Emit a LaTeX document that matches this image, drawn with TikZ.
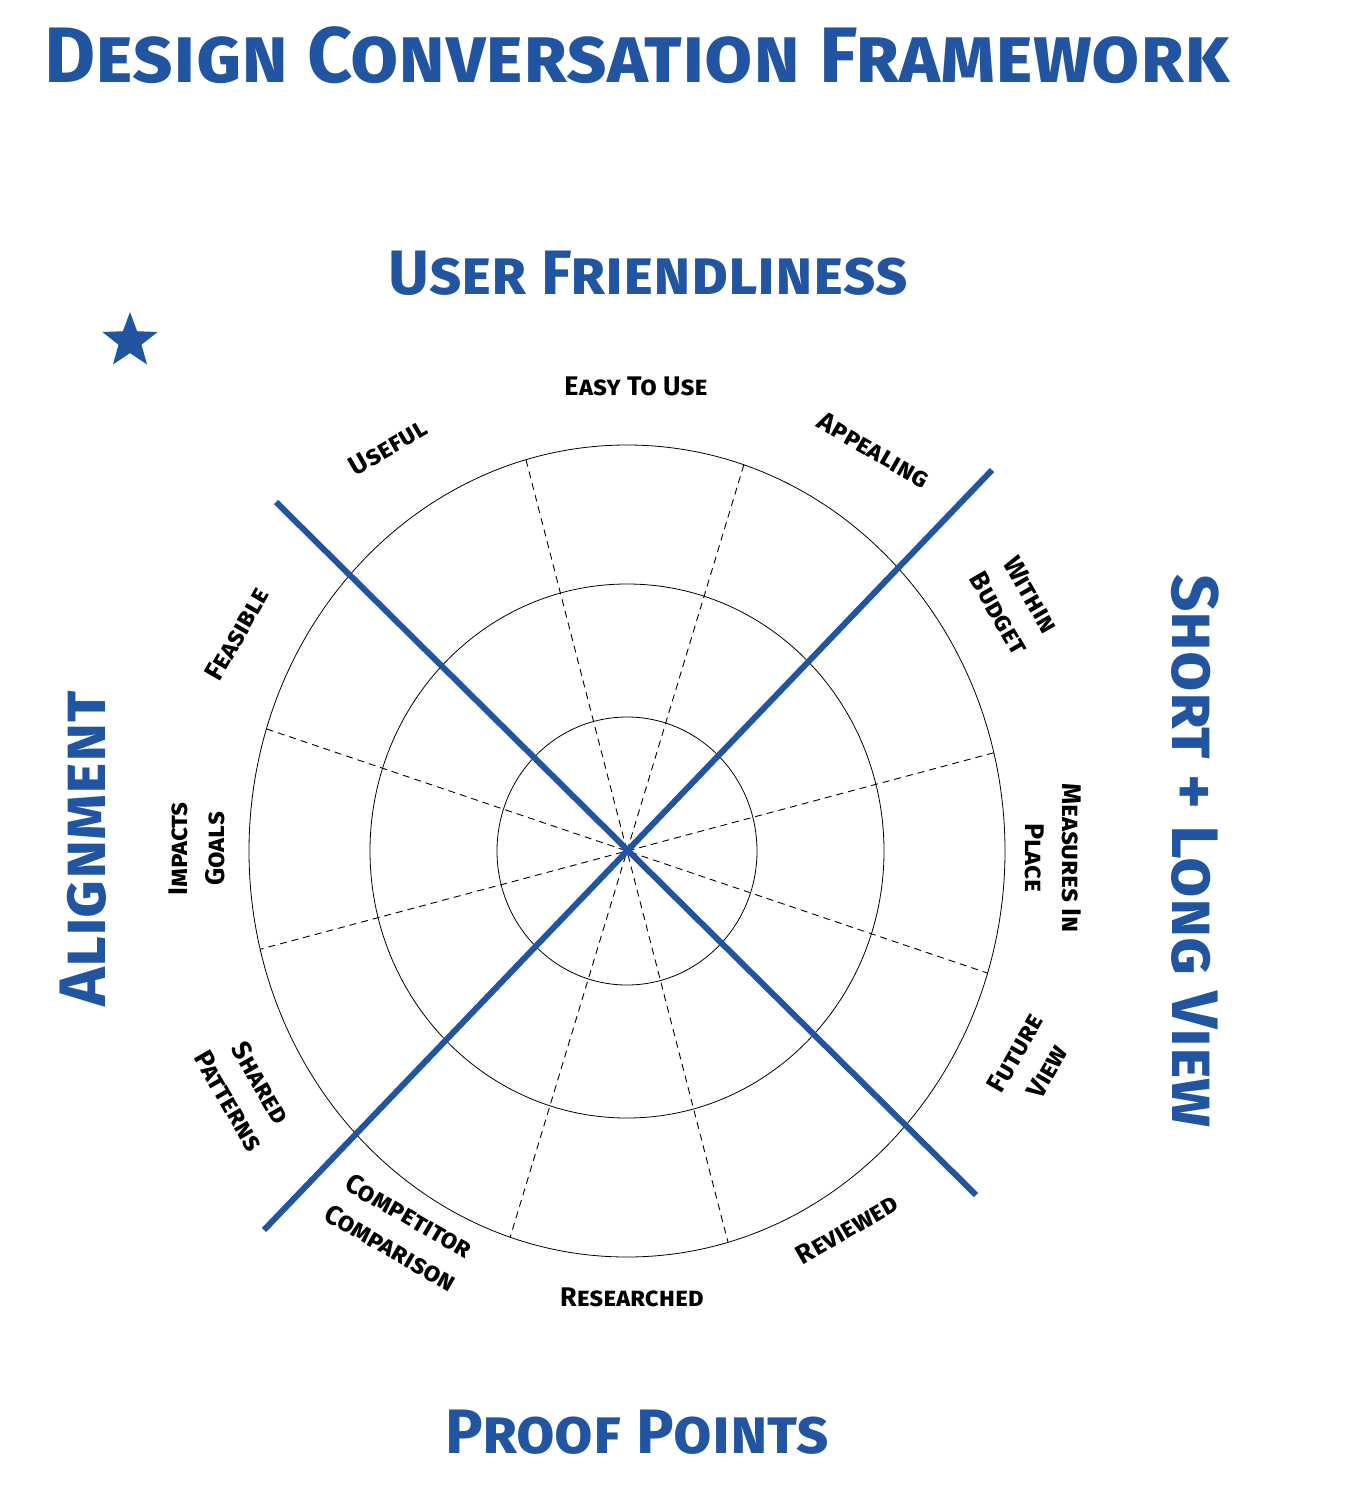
\documentclass[tikz,border=0pt]{standalone}
\usepackage{fontspec}
\setmainfont{Fira Sans}
\usetikzlibrary{shapes.geometric,calc}
\definecolor{brandblue}{RGB}{33,84,161}
\begin{document}
\begin{tikzpicture}[x=1bp,y=-1bp,
  heading/.style={text=brandblue, font=\fontsize{63}{70}\selectfont\bfseries\scshape, inner sep=0pt},
  bigheading/.style={text=brandblue, font=\fontsize{79}{84}\selectfont\bfseries\scshape, inner sep=0pt},
  lbl/.style={text=black, font=\fontsize{27}{37}\selectfont\bfseries\scshape, align=center, inner sep=0pt},
  ring/.style={draw=black, line width=0.8bp},
  divider/.style={draw=black, line width=0.9bp, dash pattern=on 7bp off 5bp},
  axisline/.style={draw=brandblue, line width=6bp},
]
\useasboundingbox[fill=white] (0,0) rectangle (1346,1510);

% centre of the wheel
\coordinate (c) at (627,851);

% rings
\draw[ring] (c) ellipse [x radius=378, y radius=406];
\draw[ring] (c) ellipse [x radius=257, y radius=267];
\draw[ring] (c) ellipse [x radius=130, y radius=134];

% dashed sector dividers (diameters)
\foreach \a/\n in {14/d1, 72/d2, 105.5/d3, 162.5/d4} {
  \coordinate (\n a) at ($(c)+({378*cos(\a)},{-406*sin(\a)})$);
  \coordinate (\n b) at ($(c)+({-378*cos(\a)},{406*sin(\a)})$);
  \draw[divider] (\n a) -- (\n b);
}

% blue axes
\coordinate (tl) at (276,502);
\coordinate (br) at (976,1195);
\coordinate (tr) at (992,470);
\coordinate (bl) at (264,1230);
\draw[axisline] (tl) -- (br);
\draw[axisline] (tr) -- (bl);

% headings
\node[bigheading] (title) at (637,55) {Design Conversation Framework};
\node[heading] (top) at (648,273) {User Friendliness};
\node[heading] (bottom) at (637,1432) {Proof Points};
\node[heading, font=\fontsize{66}{70}\selectfont\bfseries\scshape, rotate=90] (left) at (83,849) {Alignment};
\node[heading, font=\fontsize{66}{70}\selectfont\bfseries\scshape, rotate=-90] (right) at (1195,851) {Short + Long View};

% star
\node[star, star points=5, star point ratio=2.4, fill=brandblue, minimum size=58bp, inner sep=0pt] (star) at (130,341) {};

% sector labels
\node[lbl] (easy) at (636,386) {Easy To Use};
\node[lbl, rotate=30] (useful) at (388,447) {Useful};
\node[lbl, rotate=-30] (appealing) at (874,450) {Appealing};
\node[lbl, rotate=60] (feasible) at (237,634) {Feasible};
\node[lbl, rotate=-60] (budget) at (1015,604) {Within\\Budget};
\node[lbl, rotate=-90] (measures) at (1053,858) {Measures In\\Place};
\node[lbl, rotate=90] (impacts) at (197,849) {Impacts\\Goals};
\node[lbl, rotate=60] (future) at (1031,1062) {Future\\View};
\node[lbl, rotate=-60] (shared) at (245,1092) {Shared\\Patterns};
\node[lbl, rotate=-30] (competitor) at (400,1232) {Competitor\\Comparison};
\node[lbl, rotate=30] (reviewed) at (847,1229) {Reviewed};
\node[lbl] (researched) at (632,1297) {Researched};
\end{tikzpicture}
\end{document}
